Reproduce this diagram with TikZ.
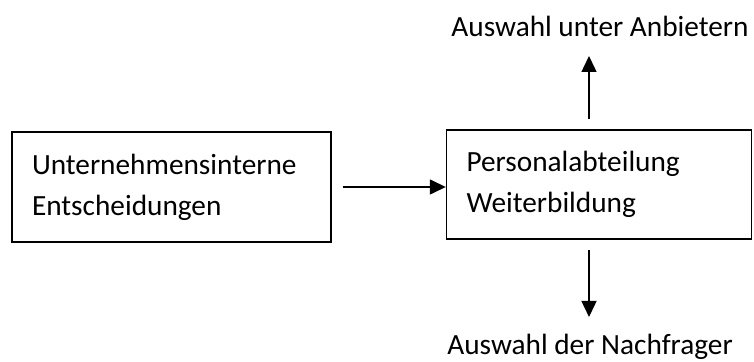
\documentclass[tikz,border=0pt]{standalone}
\usepackage{fontspec}
\setmainfont{Carlito}
\usetikzlibrary{arrows.meta,positioning}

\tikzset{
  kasten/.style={draw,line width=1.4pt,inner xsep=20pt,align=left,
    font=\fontsize{29.3}{41}\selectfont},
  pfeil/.style={line width=1.4pt,-{Triangle[length=16pt,width=15pt]}},
  beschriftung/.style={font=\fontsize{29.3}{41}\selectfont,anchor=base}
}

\begin{document}
\begin{tikzpicture}[x=1pt,y=1pt]
      \useasboundingbox (0,0) rectangle (754,361);
      % Kaesten
      \node[kasten,text width=279pt,minimum height=110pt] (intern) at (171.5,174)
        {Unternehmensinterne\\Entscheidungen};
      \node[kasten,text width=265pt,minimum height=109pt] (personal) at (599,176.5)
        {Personalabteilung\\Weiterbildung};
      % Beschriftungen oben und unten
      \node[beschriftung] (anbieter) at (600,324) {Auswahl unter Anbietern};
      \node[beschriftung] (nachfrager) at (590,6) {Auswahl der Nachfrager};
      \coordinate (obenS) at (589,242);
      \coordinate (obenE) at (589,305);
      \coordinate (untenS) at (589,111);
      \coordinate (untenE) at (589,44);
      % Pfeile
      \draw[pfeil,shorten <=11pt] (intern.east) -- (intern.east -| personal.west);
      \draw[pfeil] (obenS) -- (obenE);
      \draw[pfeil] (untenS) -- (untenE);
    \end{tikzpicture}
\end{document}
